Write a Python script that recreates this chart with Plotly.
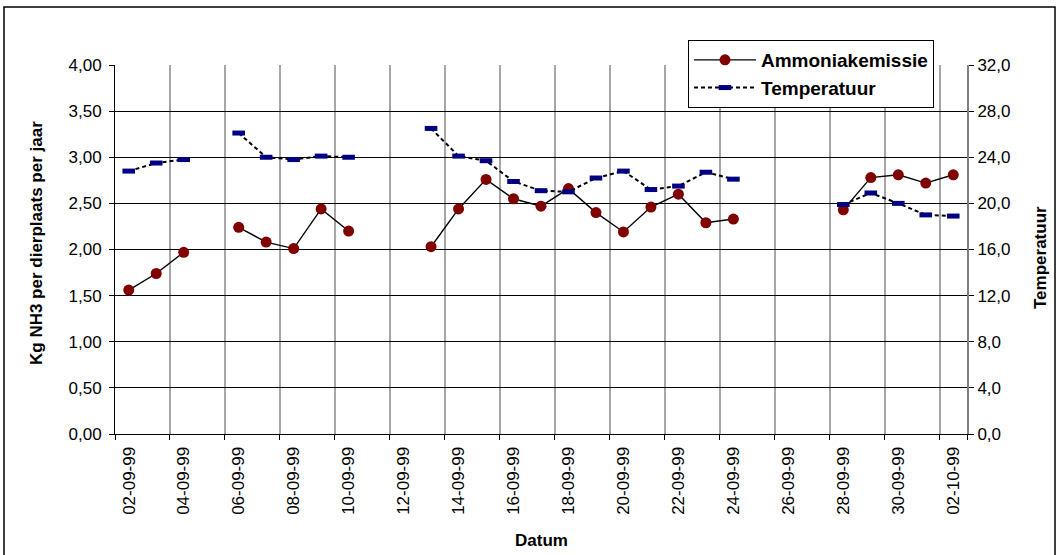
import plotly.graph_objects as go
import pandas as pd

dates = ["1999-09-02", "1999-09-03", "1999-09-04", "1999-09-05", "1999-09-06",
         "1999-09-07", "1999-09-08", "1999-09-09", "1999-09-10", "1999-09-11",
         "1999-09-12", "1999-09-13", "1999-09-14", "1999-09-15", "1999-09-16",
         "1999-09-17", "1999-09-18", "1999-09-19", "1999-09-20", "1999-09-21",
         "1999-09-22", "1999-09-23", "1999-09-24", "1999-09-25", "1999-09-26",
         "1999-09-27", "1999-09-28", "1999-09-29", "1999-09-30", "1999-10-01",
         "1999-10-02"]

ammonia = [1.56, 1.74, 1.97, None, 2.24, 2.08, 2.01, 2.44, 2.20, None,
           None, 2.03, 2.44, 2.76, 2.55, 2.47, 2.66, 2.40, 2.19, 2.46,
           2.60, 2.29, 2.33, None, None, None, 2.43, 2.78, 2.81, 2.72,
           2.81]

temperature = [22.8, 23.5, 23.8, None, 26.1, 24.0, 23.8, 24.1, 24.0, None,
               None, 26.5, 24.1, 23.7, 21.9, 21.1, 21.0, 22.2, 22.8, 21.2,
               21.5, 22.7, 22.1, None, None, None, 19.9, 20.9, 20.0, 19.0,
               18.9]

tick_labels = ["02-09-99", "04-09-99", "06-09-99", "08-09-99", "10-09-99",
               "12-09-99", "14-09-99", "16-09-99", "18-09-99", "20-09-99",
               "22-09-99", "24-09-99", "26-09-99", "28-09-99", "30-09-99",
               "02-10-99"]

FONT = "Arial, Liberation Sans, sans-serif"

# gridlines/ticks sit on day boundaries; labels are centred on the day
half = pd.Timedelta(hours=12)
tick_dates = [pd.to_datetime(t, format="%d-%m-%y") - half for t in tick_labels]
tick_dates.append(pd.to_datetime(dates[-1]) + half)
tick_text = tick_labels + [""]

x_start = pd.to_datetime(dates[0]) - half
x_end = pd.to_datetime(dates[-1]) + half

fig = go.Figure()
fig.add_trace(go.Scatter(
    x=dates, y=ammonia, name="Ammoniakemissie", mode="lines+markers",
    line=dict(color="black", width=1.4),
    marker=dict(symbol="circle", size=11, color="#800000",
                line=dict(color="#800000", width=0)),
    connectgaps=False, yaxis="y",
))
fig.add_trace(go.Scatter(
    x=dates, y=temperature, name="Temperatuur", mode="lines+markers",
    line=dict(color="black", width=2, dash="4px,3px"),
    marker=dict(symbol="line-ew", size=9,
                line=dict(color="#000080", width=5)),
    connectgaps=False, yaxis="y2",
))

fig.update_layout(
    width=1059, height=555,
    margin=dict(l=115, r=92, t=65, b=121),
    paper_bgcolor="white", plot_bgcolor="white",
    separators=",.",
    font=dict(family=FONT, size=17, color="black"),
    showlegend=True,
    legend=dict(
        x=(688 - 115) / 852, y=(434 - 40) / 369, xanchor="left", yanchor="top",
        bgcolor="white", bordercolor="black", borderwidth=1,
        font=dict(family=FONT, size=19, color="black", weight="bold"),
        itemwidth=62, tracegroupgap=0,
    ),
    xaxis=dict(
        type="date", range=[x_start, x_end],
        tickmode="array", tickvals=tick_dates, ticktext=tick_text,
        tickangle=-90, ticklabelshift=14,
        tickfont=dict(family=FONT, size=17),
        ticks="outside", ticklen=5, tickcolor="black",
        showgrid=True, gridcolor="#a6a6a6", gridwidth=2,
        showline=True, linecolor="black", linewidth=1,
        zeroline=False,
    ),
    yaxis=dict(
        range=[0, 4], dtick=0.5, tick0=0, tickformat=".2f",
        tickfont=dict(family=FONT, size=17),
        ticks="outside", ticklen=5, tickcolor="black",
        ticklabelstandoff=4,
        showgrid=True, gridcolor="black", gridwidth=1,
        showline=True, linecolor="black", linewidth=1,
        zeroline=False,
    ),
    yaxis2=dict(
        range=[0, 32], dtick=4, tick0=0, tickformat=".1f",
        overlaying="y", side="right",
        tickfont=dict(family=FONT, size=17),
        ticks="outside", ticklen=5, tickcolor="black",
        showgrid=False, showline=True, linecolor="#808080", linewidth=2,
        zeroline=False,
    ),
    annotations=[
        dict(text="<b>Kg NH3 per dierplaats per jaar</b>", xref="paper", yref="paper",
             x=(37 - 115) / 852, y=(434 - 243) / 369, textangle=-90,
             showarrow=False, font=dict(family=FONT, size=17),
             xanchor="center", yanchor="middle"),
        dict(text="<b>Temperatuur</b>", xref="paper", yref="paper",
             x=(1040 - 115) / 852, y=(434 - 258) / 369, textangle=-90,
             showarrow=False, font=dict(family=FONT, size=17),
             xanchor="center", yanchor="middle"),
        dict(text="<b>Datum</b>", xref="paper", yref="paper",
             x=0.5, y=(434 - 540) / 369, showarrow=False,
             font=dict(family=FONT, size=17),
             xanchor="center", yanchor="middle"),
    ],
    shapes=[
        dict(type="rect", xref="paper", yref="paper",
             x0=(4 - 115) / 852, x1=(1055 - 115) / 852,
             y0=(434 - 560) / 369, y1=(434 - 7) / 369,
             line=dict(color="black", width=1.5), fillcolor="rgba(0,0,0,0)",
             layer="below"),
    ],
)

fig.write_html("out.html",
               config={"displayModeBar": False},
               post_script="document.body.style.margin='0';document.body.style.overflow='hidden';")
